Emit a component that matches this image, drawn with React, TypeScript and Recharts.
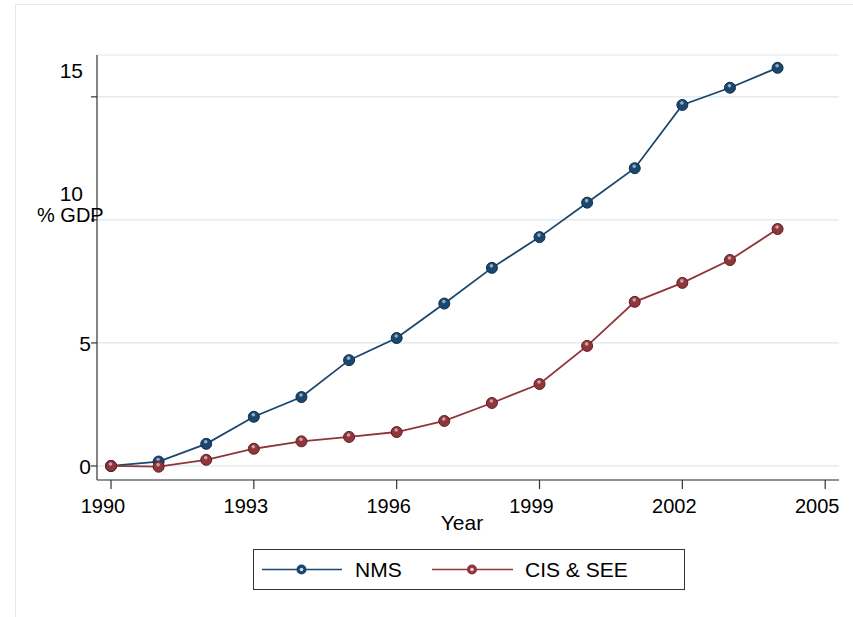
import { LineChart, Line, XAxis, YAxis, CartesianGrid, Legend, Label } from 'recharts';

const years = [1990, 1991, 1992, 1993, 1994, 1995, 1996, 1997, 1998, 1999, 2000, 2001, 2002, 2003, 2004];
const nms = [0, 0.18, 0.9, 2.0, 2.8, 4.3, 5.2, 6.6, 8.05, 9.3, 10.7, 12.1, 14.67, 15.37, 16.18];
const cisSee = [0, -0.03, 0.25, 0.7, 1.0, 1.18, 1.38, 1.83, 2.56, 3.33, 4.88, 6.67, 7.44, 8.37, 9.63];
const xTicks = [1990, 1993, 1996, 1999, 2002, 2005];
const yTicks = [0, 5, 10, 15];

const data = years.map((year, i) => ({ year, nms: nms[i], cis: cisSee[i] }));

const NAVY = '#1a476f';
const MAROON = '#90353b';
const FONT = '"Liberation Sans", Arial, sans-serif';

const makeDot = (fill: string, edge: string) => (props: any) => {
  const { cx, cy, index } = props;
  if (cx == null || cy == null) return <g key={index} />;
  return (
    <g key={index}>
      <circle cx={cx} cy={cy} r={5.5} fill={fill} stroke={edge} strokeWidth={1} />
      <circle cx={cx - 0.5} cy={cy - 2} r={1.8} fill="#ffffff" opacity={0.55} />
    </g>
  );
};

// x labels in the original sit a little left of their ticks
const XTick = (props: any) => {
  const { x, y, payload } = props;
  return (
    <text x={x - 8} y={y + 14} textAnchor="middle" fill="#000" fontSize={20} fontFamily={FONT}>
      {payload.value}
    </text>
  );
};

// two-digit y labels are lifted above their ticks, as in the source
const YTick = (props: any) => {
  const { x, y, payload } = props;
  const wide = String(payload.value).length > 1;
  return (
    <text
      x={wide ? x - 8 : x}
      y={wide ? y - 19 : y + 8}
      textAnchor="end"
      fill="#000"
      fontSize={21}
      fontFamily={FONT}
    >
      {payload.value}
    </text>
  );
};

const LegendBox = () => (
  <div
    style={{
      position: 'relative',
      boxSizing: 'border-box',
      width: 432,
      height: 41,
      border: '1px solid #333',
      fontFamily: FONT,
    }}
  >
    <svg width={432} height={41} style={{ position: 'absolute', left: -1, top: -1 }}>
      <line x1={9} y1={20.5} x2={89} y2={20.5} stroke={NAVY} strokeWidth={1.5} />
      <circle cx={48.5} cy={20.5} r={5} fill={NAVY} />
      <circle cx={48.5} cy={20.5} r={1.8} fill="#ffffff" opacity={0.8} />
      <line x1={179} y1={20.5} x2={260} y2={20.5} stroke={MAROON} strokeWidth={1.5} />
      <circle cx={219} cy={20.5} r={5} fill={MAROON} />
      <circle cx={219} cy={20.5} r={1.8} fill="#ffffff" opacity={0.8} />
      <text x={102} y={28} fontSize={21} fill="#000" fontFamily={FONT}>NMS</text>
      <text x={272} y={28} fontSize={21} fill="#000" fontFamily={FONT}>CIS &amp; SEE</text>
    </svg>
  </div>
);

export default function App() {
  return (
    <div style={{ position: 'absolute', left: 0, top: 0, width: 853, height: 617, background: '#fff', fontFamily: FONT }}>
      <div
        style={{
          position: 'absolute',
          left: 15,
          top: 4,
          width: 860,
          height: 640,
          border: '1px solid #e3eaed',
        }}
      />
      <LineChart
        width={853}
        height={617}
        data={data}
        margin={{ top: 55, right: 14, bottom: 36, left: 0 }}
        style={{ position: 'absolute', left: 0, top: 0 }}
      >
        <CartesianGrid vertical={false} stroke="#dde7eb" strokeWidth={1.2} />
        <XAxis
          dataKey="year"
          type="number"
          domain={[1989.706, 2005.29]}
          ticks={xTicks}
          allowDataOverflow
          height={60}
          tickSize={9}
          tickMargin={10}
          tick={<XTick />}
          axisLine={{ stroke: '#333', strokeWidth: 1.2 }}
          tickLine={{ stroke: '#333', strokeWidth: 1.2 }}
        >
          <Label
            content={() => (
              <text x={462} y={530} textAnchor="middle" fill="#000" fontSize={21} fontFamily={FONT}>
                Year
              </text>
            )}
          />
        </XAxis>
        <YAxis
          type="number"
          domain={[-0.57, 16.7]}
          ticks={yTicks}
          allowDataOverflow
          width={97}
          tickSize={6}
          tickMargin={0}
          tick={<YTick />}
          axisLine={{ stroke: '#333', strokeWidth: 1.2 }}
          tickLine={{ stroke: '#333', strokeWidth: 1.2 }}
        >
          <Label
            content={() => (
              <text x={37} y={222} fill="#000" fontSize={20} fontFamily={FONT}>
                % GDP
              </text>
            )}
          />
        </YAxis>
        <Legend
          content={() => <LegendBox />}
          wrapperStyle={{ position: 'absolute', left: 253, top: 549, width: 432, height: 41, bottom: 'auto' }}
        />
        <Line
          dataKey="nms"
          name="NMS"
          stroke={NAVY}
          strokeWidth={1.8}
          dot={makeDot(NAVY, '#0f2e4a')}
          isAnimationActive={false}
        />
        <Line
          dataKey="cis"
          name="CIS & SEE"
          stroke={MAROON}
          strokeWidth={1.8}
          dot={makeDot(MAROON, '#5e2024')}
          isAnimationActive={false}
        />
      </LineChart>
    </div>
  );
}
